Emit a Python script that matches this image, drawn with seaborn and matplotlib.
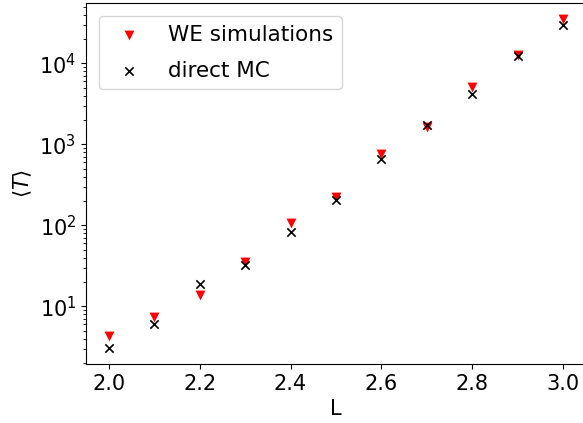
import matplotlib
matplotlib.use("Agg")
import matplotlib.pyplot as plt
import seaborn as sns
import pandas as pd

L = [2.0, 2.1, 2.2, 2.3, 2.4, 2.5, 2.6, 2.7, 2.8, 2.9, 3.0]
we_sim = [4.3, 7.4, 14.0, 35, 108, 225, 770, 1620, 5100, 12800, 35000]
direct_mc = [3.1, 6.0, 18.8, 32, 83, 205, 670, 1760, 4200, 12400, 30000]

plt.rcParams['font.family'] = ['DejaVu Sans']
plt.rcParams['font.size'] = 15
plt.rcParams['mathtext.fontset'] = 'dejavusans'

fig = plt.figure(figsize=(5.83, 4.23), dpi=100)
ax = fig.add_axes([86 / 583, 1 - 364 / 423, 500 / 583, 361 / 423])

df_we = pd.DataFrame({"L": L, "T": we_sim})
df_mc = pd.DataFrame({"L": L, "T": direct_mc})

sns.scatterplot(data=df_we, x="L", y="T", marker="v", color="red", s=50,
                edgecolor="red", linewidth=0, label="WE simulations", ax=ax, zorder=2)
sns.scatterplot(data=df_mc, x="L", y="T", marker="x", color="black", s=36,
                linewidth=1.2, label="direct MC", ax=ax, zorder=3)

ax.set_yscale("log")
ax.set_xticks([2.0, 2.2, 2.4, 2.6, 2.8, 3.0])
ax.set_xlabel("L", fontsize=15)
ax.set_ylabel(r"$\langle T\rangle$", fontsize=15)
ax.tick_params(axis="both", labelsize=15)
ax.legend(loc="upper left", fontsize=15.5, handletextpad=0.8, labelspacing=0.75,
          borderaxespad=0.6)

fig.savefig("out.png", dpi=100)
